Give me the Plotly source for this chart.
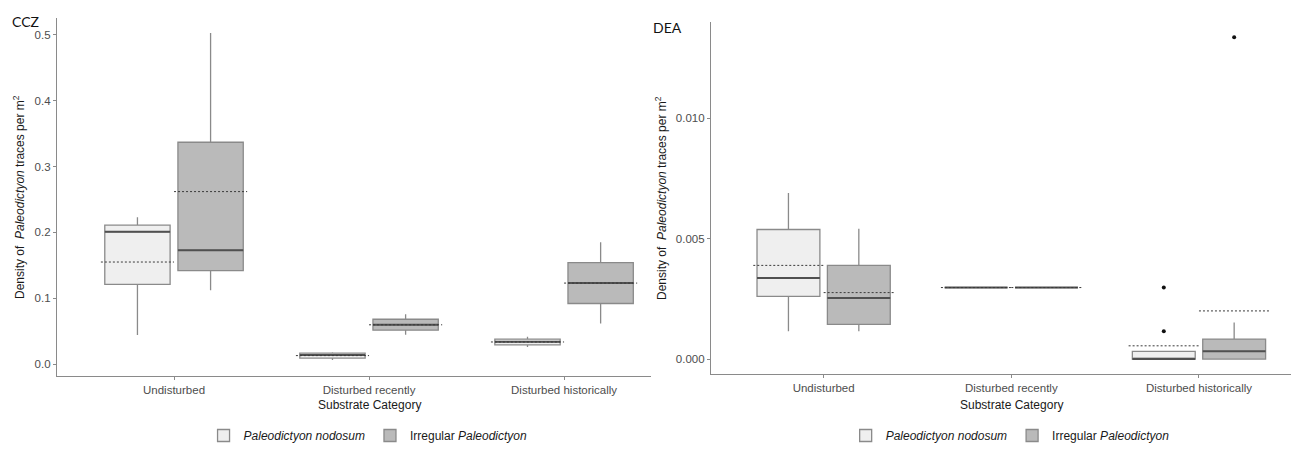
import plotly.graph_objects as go

categories = ["Undisturbed", "Disturbed recently", "Disturbed historically"]
groups = ["<i>Paleodictyon nodosum</i>", "Irregular <i>Paleodictyon</i>"]

# CCZ panel
ccz_nod_q1 = [0.121, 0.009, 0.029]
ccz_nod_med = [0.201, 0.0136, 0.0338]
ccz_nod_q3 = [0.211, 0.0167, 0.0379]
ccz_nod_lo = [0.044, 0.006, 0.026]
ccz_nod_hi = [0.223, 0.018, 0.0414]
ccz_nod_mean = [0.155, 0.0128, 0.0335]

ccz_irr_q1 = [0.142, 0.0515, 0.092]
ccz_irr_med = [0.173, 0.0596, 0.123]
ccz_irr_q3 = [0.337, 0.068, 0.154]
ccz_irr_lo = [0.112, 0.0444, 0.0617]
ccz_irr_hi = [0.503, 0.0758, 0.185]
ccz_irr_mean = [0.262, 0.0596, 0.123]

# DEA panel
dea_nod_q1 = [0.0026, 0.00297, 0.0]
dea_nod_med = [0.00337, 0.00297, 0.0]
dea_nod_q3 = [0.00538, 0.00297, 0.00032]
dea_nod_lo = [0.00115, 0.00297, 0.0]
dea_nod_hi = [0.0069, 0.00297, 0.00032]
dea_nod_mean = [0.00389, 0.00297, 0.00055]
dea_nod_out_cat = [2, 2]
dea_nod_out_val = [0.00297, 0.00115]

dea_irr_q1 = [0.00144, 0.00297, 0.0]
dea_irr_med = [0.00254, 0.00297, 0.00032]
dea_irr_q3 = [0.00389, 0.00297, 0.00083]
dea_irr_lo = [0.00115, 0.00297, 0.0]
dea_irr_hi = [0.00541, 0.00297, 0.00152]
dea_irr_mean = [0.00276, 0.00297, 0.002]
dea_irr_out_cat = [2]
dea_irr_out_val = [0.01336]

DODGE = 0.1875
BOXW = 0.335
FILLS = ["#efefef", "#bababa"]
LINE = "#8a8a8a"
MED = "#505050"

fig = go.Figure()


def add_panel(xa, ya, legend, stats, outliers):
    for gi, (q1, med, q3, lo, hi, mean) in enumerate(stats):
        off = -DODGE if gi == 0 else DODGE
        xs = [i + off for i in range(len(categories))]
        fig.add_trace(go.Box(
            x=xs, q1=q1, median=med, q3=q3, lowerfence=lo, upperfence=hi,
            width=BOXW, fillcolor=FILLS[gi], line=dict(color=LINE, width=1.3),
            whiskerwidth=0, boxpoints=False, name=groups[gi],
            xaxis=xa, yaxis=ya, legend=legend, showlegend=True,
        ))
        # darker median
        mx, my = [], []
        for x, m in zip(xs, med):
            mx += [x - BOXW / 2, x + BOXW / 2, None]
            my += [m, m, None]
        fig.add_trace(go.Scatter(x=mx, y=my, mode="lines",
                                 line=dict(color=MED, width=2),
                                 xaxis=xa, yaxis=ya, showlegend=False, hoverinfo="skip"))
        # dashed mean
        ex, ey = [], []
        for x, m in zip(xs, mean):
            ex += [x - DODGE, x + DODGE, None]
            ey += [m, m, None]
        fig.add_trace(go.Scatter(x=ex, y=ey, mode="lines",
                                 line=dict(color="#3a3a3a", width=1, dash="2px,2px"),
                                 xaxis=xa, yaxis=ya, showlegend=False, hoverinfo="skip"))
    for gi, (cats, vals) in enumerate(outliers):
        off = -DODGE if gi == 0 else DODGE
        if cats:
            fig.add_trace(go.Scatter(x=[c + off for c in cats], y=vals, mode="markers",
                                     marker=dict(color="#111111", size=4),
                                     xaxis=xa, yaxis=ya, showlegend=False))


add_panel("x", "y", "legend",
          [(ccz_nod_q1, ccz_nod_med, ccz_nod_q3, ccz_nod_lo, ccz_nod_hi, ccz_nod_mean),
           (ccz_irr_q1, ccz_irr_med, ccz_irr_q3, ccz_irr_lo, ccz_irr_hi, ccz_irr_mean)],
          [([], []), ([], [])])
add_panel("x2", "y2", "legend2",
          [(dea_nod_q1, dea_nod_med, dea_nod_q3, dea_nod_lo, dea_nod_hi, dea_nod_mean),
           (dea_irr_q1, dea_irr_med, dea_irr_q3, dea_irr_lo, dea_irr_hi, dea_irr_mean)],
          [(dea_nod_out_cat, dea_nod_out_val), (dea_irr_out_cat, dea_irr_out_val)])

TICKFONT = dict(family="Liberation Sans, Arial, sans-serif", size=11.5, color="#4d4d4d")
AXC = "#8a8a8a"
common_x = dict(tickvals=[0, 1, 2], ticktext=categories, showline=True, linecolor=AXC,
                linewidth=1.3, ticks="outside", ticklen=3, tickcolor=AXC, showgrid=False,
                zeroline=False, tickfont=TICKFONT)
common_y = dict(showline=True, linecolor=AXC, linewidth=1.3, ticks="outside", ticklen=3,
                tickcolor=AXC, showgrid=False, zeroline=False, tickfont=TICKFONT)

ytitle = "Density of  <i>Paleodictyon</i> traces per m<sup>2</sup>"
TITLEFONT = dict(family="Liberation Sans, Arial, sans-serif", size=12, color="#1a1a1a")
LEGFONT = dict(family="Liberation Sans, Arial, sans-serif", size=12, color="#1a1a1a")

fig.update_layout(
    width=1291, height=442,
    margin=dict(l=49, r=0, t=10, b=73),
    paper_bgcolor="white", plot_bgcolor="white",
    showlegend=True,
    xaxis=dict(domain=[0, 0.4783], range=[-0.6, 2.446], anchor="y", **common_x),
    yaxis=dict(domain=[0, 1], range=[-0.0182, 0.5258], anchor="x",
               tickvals=[0, 0.1, 0.2, 0.3, 0.4, 0.5], tickformat=".1f", **common_y),
    xaxis2=dict(domain=[0.5266, 1.0], range=[-0.6, 2.533], anchor="y2", **common_x),
    yaxis2=dict(domain=[0.0056, 0.989], range=[-0.00062, 0.0140], anchor="x2",
                tickvals=[0, 0.005, 0.010], tickformat=".3f", **common_y),
    legend=dict(orientation="h", x=0.118, y=-0.167, xanchor="left", yanchor="middle",
                font=LEGFONT, bgcolor="rgba(0,0,0,0)"),
    legend2=dict(orientation="h", x=0.635, y=-0.167, xanchor="left", yanchor="middle",
                 font=LEGFONT, bgcolor="rgba(0,0,0,0)"),
    annotations=[
        dict(text="CCZ", xref="paper", yref="paper", x=-0.0378, y=0.989, xanchor="left",
             yanchor="middle", showarrow=False,
             font=dict(family="Lato, sans-serif", size=14, color="#111111")),
        dict(text="DEA", xref="paper", yref="paper", x=0.478, y=0.974, xanchor="left",
             yanchor="middle", showarrow=False,
             font=dict(family="Lato, sans-serif", size=14, color="#111111")),
        dict(text=ytitle, xref="x domain", yref="y domain", x=0, y=0.5, xshift=-38,
             textangle=-90, showarrow=False, xanchor="center", yanchor="middle", font=TITLEFONT),
        dict(text=ytitle, xref="x2 domain", yref="y2 domain", x=0, y=0.5, xshift=-50,
             textangle=-90, showarrow=False, xanchor="center", yanchor="middle", font=TITLEFONT),
        dict(text="Substrate Category", xref="x", yref="paper", x=1, y=-0.08,
             showarrow=False, xanchor="center", yanchor="middle", font=TITLEFONT),
        dict(text="Substrate Category", xref="x2", yref="paper", x=1, y=-0.08,
             showarrow=False, xanchor="center", yanchor="middle", font=TITLEFONT),
    ],
)

fig.write_html("out.html")
